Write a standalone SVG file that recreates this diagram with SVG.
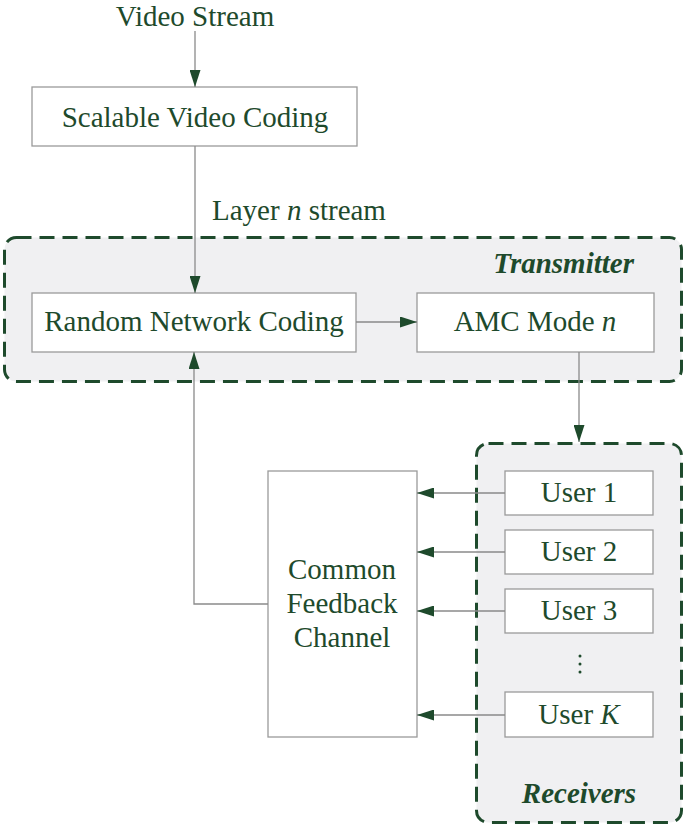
<svg xmlns="http://www.w3.org/2000/svg" width="685" height="829" viewBox="0 0 685 829">
<defs>
<style>
.t{font-family:"Liberation Serif","Times New Roman",serif;font-size:29px;fill:#1e4a2c}
.bi{font-weight:bold;font-style:italic}
.box{fill:#fff;stroke:#9a9a9a;stroke-width:1.3}
.grp{fill:#f0f0f2;stroke:#1e4a2c;stroke-width:3;stroke-dasharray:15 8}
.c{fill:none;stroke:#8a8a8a;stroke-width:1.3}
</style>
<marker id="ah" viewBox="0 0 17 11" refX="17" refY="5.5" markerWidth="17" markerHeight="11" markerUnits="userSpaceOnUse" orient="auto">
<path d="M0,0 L17,5.5 L0,11 Z" fill="#1e4a2c"/>
</marker>
</defs>
<rect width="685" height="829" fill="#fff"/>
<g id="transmitter">
<rect class="grp" x="4.5" y="237.5" width="677" height="144" rx="12"/>
<text class="t bi" x="634" y="273" text-anchor="end">Transmitter</text>
</g>
<g id="receivers">
<rect class="grp" x="476.5" y="443.5" width="205" height="379" rx="12"/>
<text class="t bi" x="579" y="803" text-anchor="middle">Receivers</text>
<circle cx="580" cy="656" r="1.5" fill="#1e4a2c"/>
<circle cx="580" cy="664" r="1.5" fill="#1e4a2c"/>
<circle cx="580" cy="672" r="1.5" fill="#1e4a2c"/>
</g>
<g id="video-stream"><text class="t" x="195" y="26" text-anchor="middle">Video Stream</text></g>
<g id="svc">
<rect class="box" x="32" y="87" width="325" height="59"/>
<text class="t" x="195" y="127" text-anchor="middle">Scalable Video Coding</text>
</g>
<g id="layer-label"><text class="t" x="212" y="220">Layer <tspan font-style="italic">n</tspan> stream</text></g>
<g id="rnc">
<rect class="box" x="32" y="293" width="324" height="59"/>
<text class="t" x="194" y="331" text-anchor="middle">Random Network Coding</text>
</g>
<g id="amc">
<rect class="box" x="417" y="293" width="237" height="59"/>
<text class="t" x="535" y="331" text-anchor="middle">AMC Mode <tspan font-style="italic">n</tspan></text>
</g>
<g id="cfc">
<rect class="box" x="268" y="471" width="149" height="266"/>
<text class="t" x="342" y="579" text-anchor="middle">Common</text>
<text class="t" x="342" y="613" text-anchor="middle">Feedback</text>
<text class="t" x="342" y="647" text-anchor="middle">Channel</text>
</g>
<g id="user1"><rect class="box" x="505" y="471" width="148" height="44"/><text class="t" x="579" y="502" text-anchor="middle">User 1</text></g>
<g id="user2"><rect class="box" x="505" y="530" width="148" height="44"/><text class="t" x="579" y="561" text-anchor="middle">User 2</text></g>
<g id="user3"><rect class="box" x="505" y="589" width="148" height="44"/><text class="t" x="579" y="620" text-anchor="middle">User 3</text></g>
<g id="userK"><rect class="box" x="505" y="692" width="148" height="45"/><text class="t" x="579" y="724" text-anchor="middle">User <tspan font-style="italic">K</tspan></text></g>
<g id="connectors">
<line class="c" x1="195" y1="31" x2="195" y2="87" marker-end="url(#ah)"/>
<line class="c" x1="195" y1="146" x2="195" y2="293" marker-end="url(#ah)"/>
<line class="c" x1="356" y1="322" x2="417" y2="322" marker-end="url(#ah)"/>
<line class="c" x1="579" y1="352" x2="579" y2="442" marker-end="url(#ah)"/>
<polyline class="c" points="268,604 194,604 194,352" marker-end="url(#ah)"/>
<line class="c" x1="505" y1="493" x2="417" y2="493" marker-end="url(#ah)"/>
<line class="c" x1="505" y1="552" x2="417" y2="552" marker-end="url(#ah)"/>
<line class="c" x1="505" y1="611" x2="417" y2="611" marker-end="url(#ah)"/>
<line class="c" x1="505" y1="715" x2="417" y2="715" marker-end="url(#ah)"/>
</g>
</svg>
